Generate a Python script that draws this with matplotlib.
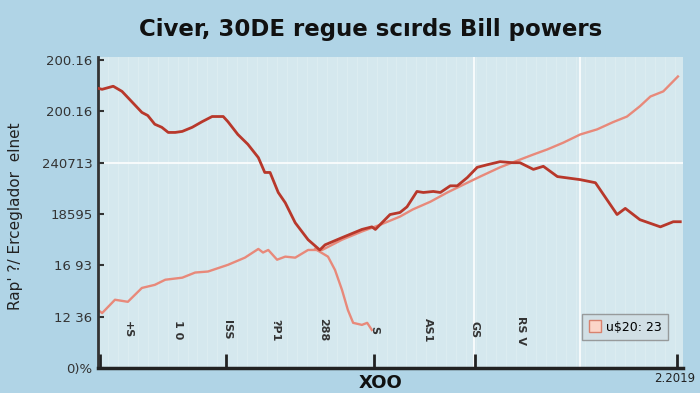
import numpy as np
import matplotlib.pyplot as plt

# -----------------------
# Data
# -----------------------
dark_x = [0, 0.7, 2.6, 4.1, 5.1, 7.5, 8.5, 9.7, 10.9, 12.0, 13.2, 14.4, 16.1, 17.8,
          19.5, 21.4, 22.2, 23.9, 25.6, 27.4, 28.5, 29.4, 30.8, 32.0, 33.7, 35.9,
          37.9, 38.8, 41.7, 45.1, 46.8, 47.4, 49.9, 51.6, 52.8, 54.5, 55.6, 57.3,
          58.5, 60.2, 61.4, 63.1, 64.8, 66.5, 68.7, 70.9, 72.1, 74.4, 76.1, 78.5,
          82.4, 85.0, 88.7, 90.1, 92.6, 96.1, 98.3, 99.5]
dark_y = [5.45, 5.43, 5.49, 5.39, 5.27, 4.98, 4.92, 4.75, 4.69, 4.59, 4.59, 4.61,
          4.69, 4.80, 4.90, 4.90, 4.80, 4.55, 4.36, 4.10, 3.81, 3.81, 3.42, 3.22,
          2.83, 2.50, 2.30, 2.40, 2.54, 2.70, 2.75, 2.70, 2.99, 3.03, 3.14, 3.44,
          3.42, 3.44, 3.42, 3.55, 3.55, 3.71, 3.91, 3.96, 4.02, 4.00, 4.00, 3.87,
          3.93, 3.73, 3.67, 3.61, 2.99, 3.11, 2.89, 2.75, 2.85, 2.85]

light_x = [0, 0.7, 2.9, 5.1, 7.5, 9.7, 11.5, 14.4, 16.6, 18.8, 22.2, 25.1, 27.4,
           28.2, 29.1, 30.6, 32.0, 33.7, 35.9, 38.3, 41.7, 45.1, 48.2, 51.6, 53.8,
           56.8, 59.7, 62.4, 65.3, 68.7, 72.1, 74.4, 76.8, 79.5, 82.4, 85.3, 88.0,
           90.4, 92.6, 94.4, 96.6, 99.1]
light_y = [1.13, 1.07, 1.33, 1.29, 1.56, 1.62, 1.72, 1.76, 1.86, 1.88, 2.01, 2.15,
           2.32, 2.25, 2.30, 2.11, 2.17, 2.15, 2.30, 2.30, 2.50, 2.66, 2.79, 2.95,
           3.09, 3.24, 3.42, 3.57, 3.73, 3.91, 4.06, 4.16, 4.26, 4.39, 4.55, 4.65,
           4.79, 4.90, 5.10, 5.29, 5.39, 5.68]

drop_x = [37.1, 39.3, 40.5, 41.7, 42.7, 43.6, 45.1, 46.0, 46.8]
drop_y = [2.32, 2.17, 1.91, 1.52, 1.13, 0.88, 0.84, 0.88, 0.74]

y_ticks = [0, 1, 2, 3, 4, 5, 6]
y_labels = ["0)%", "12 36", "16 93", "18595", "240713", "200.16", "200.16"]

x_ticks = [0.3, 21.9, 47.2, 64.4, 99.0]
inner_pos = [5.1, 13.7, 22.1, 30.3, 38.5, 47.2, 56.4, 64.3, 72.3]
inner_labels = ["+S", "1 0", "ISS", "?P1", "288", "S", "AS1", "GS", "RS V"]

DARK = "#b8382b"
LIGHT = "#e8897a"

# -----------------------
# Figure
# -----------------------
fig = plt.figure(figsize=(7, 3.93), dpi=100, facecolor="#b0d4e6")
ax = fig.add_axes([0.14, 0.0636, 0.836, 0.7914])
ax.set_facecolor("#d5e8ee")

# faint vertical grid
for gx in np.arange(0, 100, 1.7):
    ax.axvline(gx, color="white", lw=0.5, alpha=0.25, zorder=0)
for gx in [64.3, 82.4]:
    ax.axvline(gx, color="white", lw=1.5, alpha=0.8, zorder=0)
ax.axhline(4, color="white", lw=1.5, alpha=0.8, zorder=0)

ax.plot(light_x, light_y, color=LIGHT, lw=1.7, zorder=2)
ax.plot(drop_x, drop_y, color=LIGHT, lw=1.7, zorder=2)
ax.plot(dark_x, dark_y, color=DARK, lw=2.0, zorder=3)

ax.set_xlim(0, 100)
ax.set_ylim(0, 6.06)

ax.set_yticks(y_ticks)
ax.set_yticklabels(y_labels, fontsize=9.5, color="#333333")
ax.set_xticks(x_ticks)
ax.set_xticklabels([""] * len(x_ticks))
ax.tick_params(axis="y", direction="in", length=4, width=1.5, color="#333333", pad=4)
ax.tick_params(axis="x", direction="in", length=10, width=2, color="#222222")

for s in ["top", "right"]:
    ax.spines[s].set_visible(False)
ax.spines["left"].set_linewidth(2)
ax.spines["left"].set_color("#333333")
ax.spines["bottom"].set_linewidth(2.5)
ax.spines["bottom"].set_color("#222222")

for pos, lab in zip(inner_pos, inner_labels):
    ax.text(pos, 0.74, lab, rotation=270, ha="center", va="center",
            fontsize=8, fontweight="bold", color="#333333")

ax.plot([], [], marker="s", ls="none", markersize=8, markerfacecolor="#fbd5c8",
        markeredgecolor="#d8826e", label="u$20: 23")
leg = ax.legend(loc="lower right", bbox_to_anchor=(0.985, 0.07), fontsize=9,
                frameon=True, fancybox=False, handletextpad=0.4,
                borderpad=0.5, handlelength=1.0)
leg.get_frame().set_facecolor("#d0dde3")
leg.get_frame().set_edgecolor("#888888")

fig.text(0.53, 0.924, "Civer, 30DE regue scırds Bill powers", ha="center",
         va="center", fontsize=16.5, fontweight="bold", color="#111111")
fig.text(0.022, 0.45, "Rap' ?/ Erceglador  elnet", rotation=90, ha="center",
         va="center", fontsize=11, color="#222222")
fig.text(0.543, 0.026, "XOO", ha="center", va="center", fontsize=13,
         fontweight="bold", color="#111111")
fig.text(0.964, 0.038, "2.2019", ha="center", va="center", fontsize=8.5,
         color="#222222")

plt.savefig("out.png", dpi=100, facecolor=fig.get_facecolor())
